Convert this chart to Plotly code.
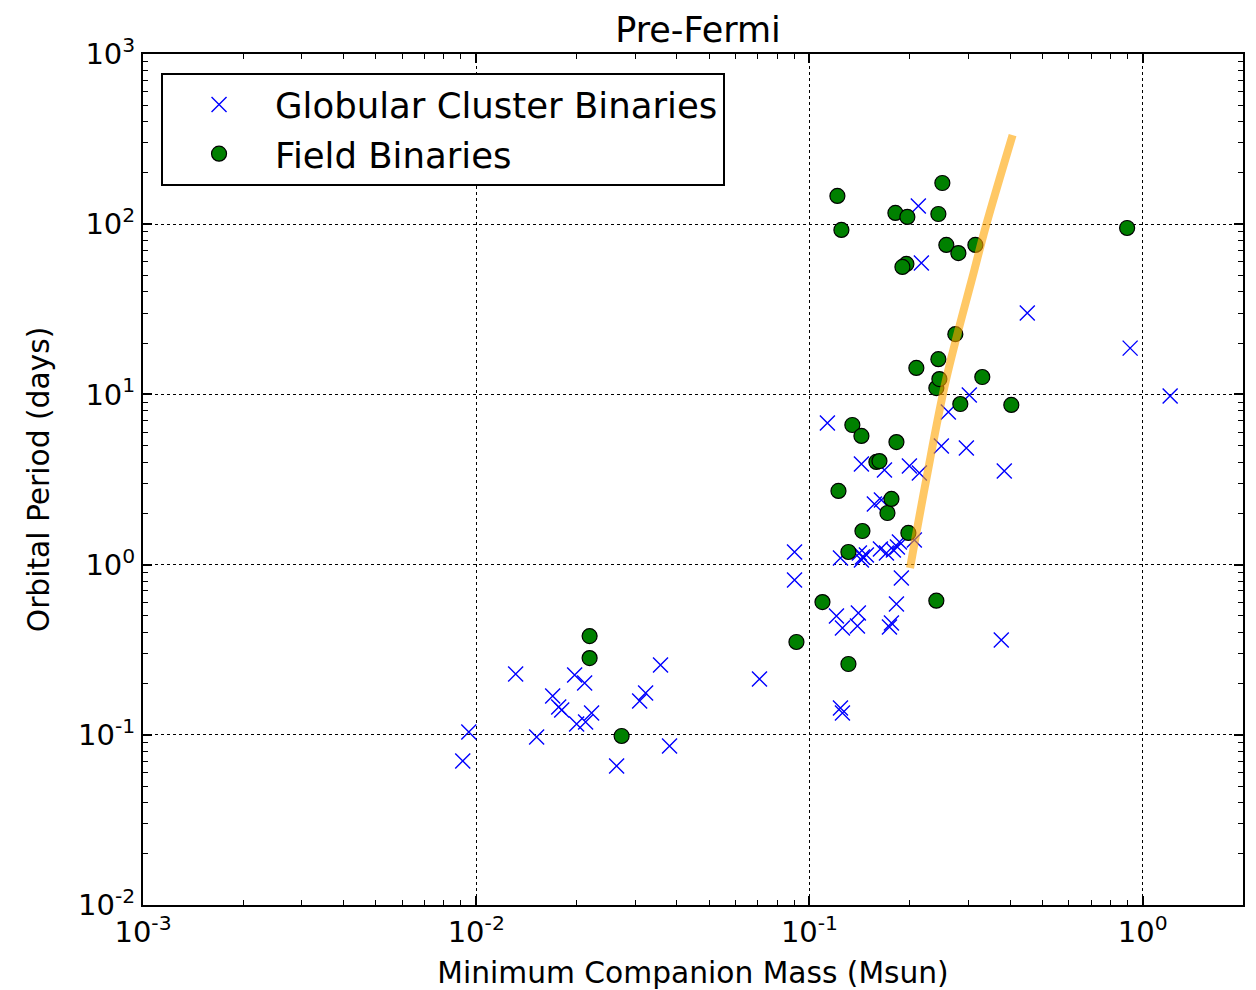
import plotly.graph_objects as go

# Globular cluster binaries: minimum companion mass (Msun), orbital period (days)
gc_mass = [0.00911, 0.00950, 0.01313, 0.01518, 0.01696, 0.01768, 0.01805, 0.01974,
           0.02115, 0.02001, 0.02129, 0.02219, 0.02638, 0.03093, 0.03223, 0.03573,
           0.03803, 0.0708, 0.0902, 0.0902, 0.1132, 0.1205, 0.1256, 0.1239,
           0.1256, 0.1402, 0.1393, 0.1239, 0.1412, 0.1442, 0.1432, 0.1482,
           0.1633, 0.1702, 0.1786, 0.1836, 0.1862, 0.2064, 0.1887, 0.1824,
           0.1762, 0.1738, 0.1432, 0.1679, 0.1566, 0.1644, 0.1995, 0.2137,
           0.2488, 0.2957, 0.2611, 0.3018, 0.3843, 0.3764, 0.2122, 0.2167,
           0.4505, 0.917, 1.209]
gc_period = [0.0702, 0.1038, 0.2276, 0.0970, 0.169, 0.1456, 0.140, 0.2245,
             0.2014, 0.1156, 0.1189, 0.1343, 0.0656, 0.158, 0.176, 0.257,
             0.0859, 0.2128, 1.186, 0.812, 6.79, 0.499, 0.424, 0.1437,
             0.1343, 0.520, 0.4356, 1.094, 1.17, 1.109, 1.064, 1.138,
             1.235, 1.17, 1.219, 1.268, 1.358, 1.395, 0.834, 0.587,
             0.454, 0.430, 3.90, 3.60, 2.27, 2.40, 3.80, 3.45,
             4.98, 4.84, 7.88, 9.91, 3.55, 0.3606, 127.9, 59.2,
             30.1, 18.7, 9.79]

# Field binaries
fb_mass = [0.02189, 0.02189, 0.02731, 0.0914, 0.1094, 0.1309, 0.1309, 0.1222,
           0.1442, 0.1981, 0.1714, 0.1762, 0.1588, 0.1622, 0.1824, 0.1345,
           0.1432, 0.2836, 0.4034, 0.3301, 0.2403, 0.2454, 0.2093, 0.2437,
           0.2740, 0.1954, 0.1901, 0.2575, 0.2798, 0.3147, 0.1811, 0.1967,
           0.2437, 0.2505, 0.1213, 0.1247, 0.898, 0.2403]
fb_period = [0.380, 0.2825, 0.0984, 0.351, 0.6026, 0.2606, 1.186, 2.71,
             1.575, 1.535, 2.01, 2.43, 4.01, 4.06, 5.25, 6.61,
             5.70, 8.78, 8.67, 12.65, 10.9, 12.3, 14.3, 16.1,
             22.6, 58.4, 56.1, 75.5, 67.7, 75.5, 116.4, 110.3,
             114.8, 174.6, 146.5, 92.5, 95.0, 0.614]

# Orange relation curve
curve_mass = [0.2004, 0.224, 0.257, 0.3125, 0.339, 0.407]
curve_period = [0.955, 3.14, 12.2, 53.8, 98.8, 334]

x_tickvals = [0.001, 0.01, 0.1, 1]
x_ticktext = ["10<sup>-3</sup>", "10<sup>-2</sup>", "10<sup>-1</sup>", "10<sup>0</sup>"]
y_tickvals = [0.01, 0.1, 1, 10, 100, 1000]
y_ticktext = ["10<sup>-2</sup>", "10<sup>-1</sup>", "10<sup>0</sup>",
              "10<sup>1</sup>", "10<sup>2</sup>", "10<sup>3</sup>"]

def minor_vals(lo_exp, hi_exp):
    vals = []
    for e in range(lo_exp, hi_exp + 1):
        for m in range(2, 10):
            vals.append(m * 10 ** e)
    return vals

FONT = "DejaVu Sans"

fig = go.Figure()
fig.add_trace(go.Scatter(
    x=gc_mass, y=gc_period, mode="markers", name="Globular Cluster Binaries",
    marker=dict(symbol="x-thin", size=15, color="#0000ff",
                line=dict(color="#0000ff", width=1.4)),
))
fig.add_trace(go.Scatter(
    x=fb_mass, y=fb_period, mode="markers", name="Field Binaries",
    marker=dict(symbol="circle", size=15, color="#008000",
                line=dict(color="black", width=1.2)),
))
fig.add_trace(go.Scatter(
    x=curve_mass, y=curve_period, mode="lines", showlegend=False,
    line=dict(color="orange", width=8, shape="spline"), opacity=0.6,
))

axis_common = dict(
    showline=True, linecolor="black", linewidth=2, mirror="allticks",
    ticks="inside", ticklen=9, tickwidth=1.5, tickcolor="black",
    showgrid=True, gridcolor="black", griddash="dot", gridwidth=1.3,
    zeroline=False, automargin=False,
    tickfont=dict(family=FONT, size=29, color="black"),
)

fig.update_xaxes(
    type="log", range=[-3, 0.30103],
    tickvals=x_tickvals, ticktext=x_ticktext,
    minor=dict(ticks="inside", ticklen=5, tickwidth=1.3, tickcolor="black",
               tickvals=minor_vals(-3, 0), showgrid=False),
    title=dict(text="Minimum Companion Mass (Msun)", standoff=16,
               font=dict(family=FONT, size=29.7, color="black")),
    **axis_common,
)
fig.update_yaxes(
    type="log", range=[-2, 3],
    tickvals=y_tickvals, ticktext=y_ticktext,
    minor=dict(ticks="inside", ticklen=5, tickwidth=1.3, tickcolor="black",
               tickvals=minor_vals(-2, 2), showgrid=False),
    title=dict(text="Orbital Period (days)", standoff=20,
               font=dict(family=FONT, size=29.7, color="black")),
    **axis_common,
)

fig.update_layout(
    width=1256, height=990,
    margin=dict(l=143, r=13, t=54, b=85),
    paper_bgcolor="white", plot_bgcolor="white",
    font=dict(family=FONT, color="black"),
    title=dict(text="Pre-Fermi", x=0.5 + 5 / 1100, xref="paper", xanchor="center",
               y=1 - 30 / 990, yref="container", yanchor="middle",
               font=dict(family=FONT, size=35, color="black")),
    legend=dict(x=0.0164, y=0.9777, xanchor="left", yanchor="top",
                bgcolor="white", bordercolor="black", borderwidth=2,
                font=dict(family=FONT, size=35.5, color="black"),
                itemwidth=102),
)

fig.write_html("out.html")
